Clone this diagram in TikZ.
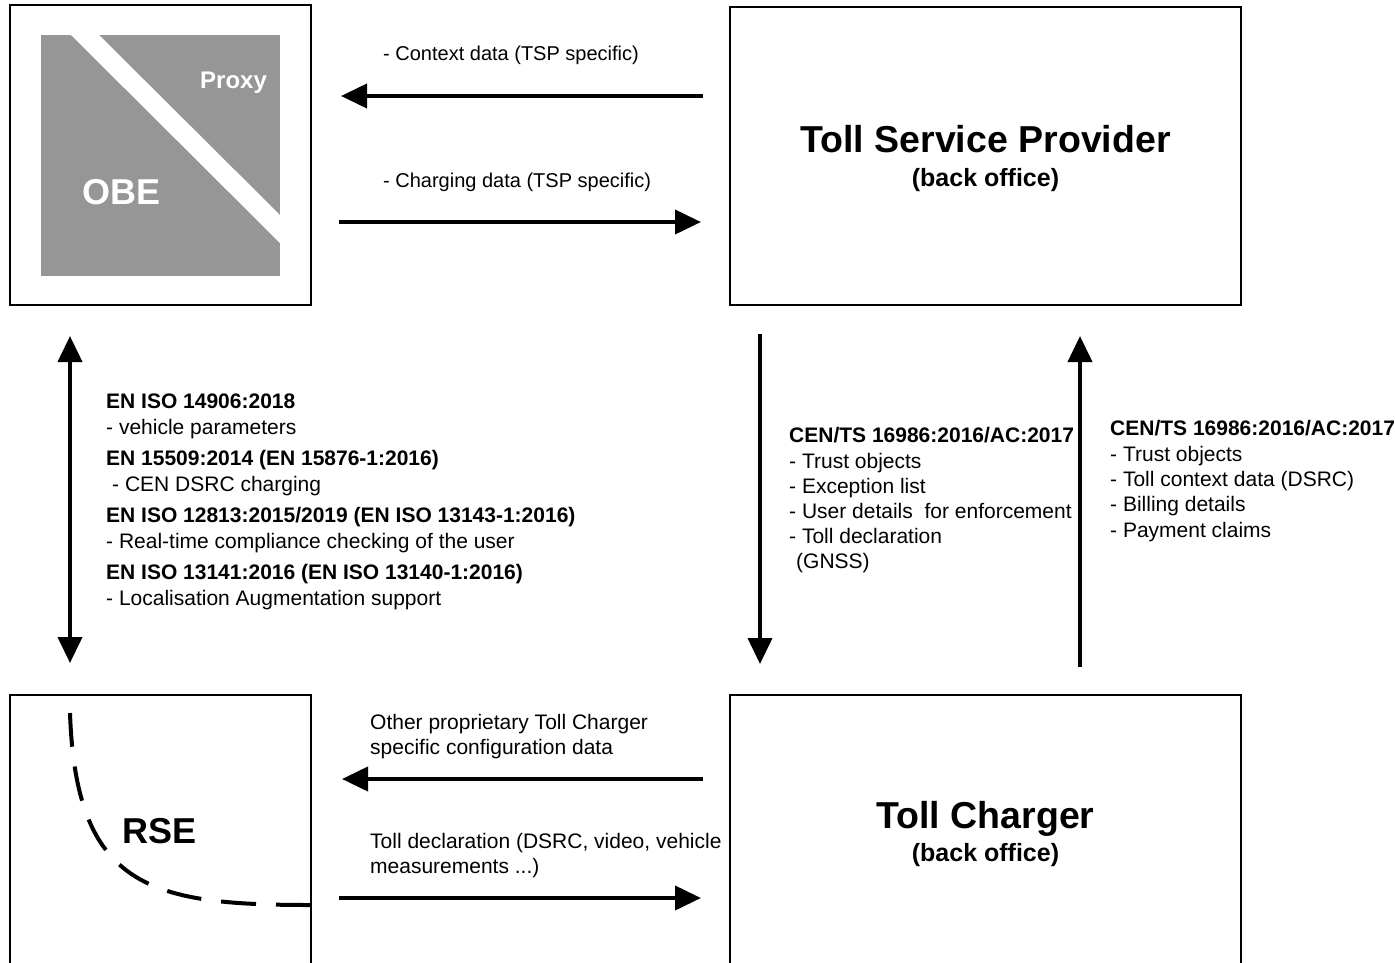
\documentclass[tikz,border=0pt]{standalone}
\usepackage{fontspec}
\setmainfont{Liberation Sans}
\usetikzlibrary{arrows.meta}
\definecolor{obegray}{RGB}{150,150,150}
\tikzset{
  box/.style={draw, line width=2pt, inner sep=0pt},
  lbl/.style={anchor=base west, inner sep=0pt, font=\fontsize{21}{25}\selectfont},
  tlbl/.style={anchor=base west, inner sep=0pt, font=\fontsize{20}{24}\selectfont},
  blbl/.style={anchor=base west, inner sep=0pt, font=\fontsize{21}{25}\selectfont\bfseries},
  title/.style={anchor=base, inner sep=0pt, font=\fontsize{37.5}{40}\selectfont\bfseries},
  subtitle/.style={anchor=base, inner sep=0pt, font=\fontsize{25}{28}\selectfont\bfseries},
  flow/.style={line width=4pt, -{Triangle[length=26pt,width=24pt]}},
  dflow/.style={line width=4pt, {Triangle[length=26pt,width=24pt]}-{Triangle[length=26pt,width=24pt]}},
}
\begin{document}
\begin{tikzpicture}[x=1pt,y=-1pt]
\useasboundingbox (0,0) rectangle (1395,962);
\clip (0,0) rectangle (1395,962);

% boxes
\node[box, minimum width=301pt, minimum height=300pt] (obe) at (160.5,155) {};
\node[box, minimum width=511pt, minimum height=298pt] (tsp) at (985.5,156) {};
\node[box, minimum width=301pt, minimum height=305pt] (rse) at (160.5,847.5) {};
\node[box, minimum width=511pt, minimum height=305pt] (tc) at (985.5,847.5) {};

% OBE / Proxy graphic
\fill[obegray] (41,35) rectangle (280,276);
\fill[white] (71,35) -- (99,35) -- (280,215) -- (280,243) -- cycle;
\node[anchor=base west, inner sep=0pt, text=white, font=\fontsize{24}{26}\selectfont\bfseries] (proxy) at (200,88) {Proxy};
\node[anchor=base west, inner sep=0pt, text=white, font=\fontsize{36}{38}\selectfont\bfseries] (obetxt) at (82,204) {OBE};

% titles
\node[title] (tsptitle) at (985.5,152) {Toll Service Provider};
\node[subtitle] (tspsub) at (985.5,186) {(back office)};
\node[title] (tctitle) at (985.5,828) {Toll Charger};
\node[subtitle] (tcsub) at (985.5,861) {(back office)};
\node[anchor=base west, inner sep=0pt, font=\fontsize{36}{38}\selectfont\bfseries] (rsetxt) at (122,843) {RSE};

% RSE dashed curve
\draw[line width=4pt, dash pattern=on 35pt off 20pt] (311,905) .. controls (150,905) and (76,888) .. (70,713);

% top arrows
\coordinate (c1s) at (703,96);  \coordinate (c1e) at (341,96);
\coordinate (c2s) at (339,222); \coordinate (c2e) at (701,222);
\draw[flow] (c1s) -- (c1e);
\draw[flow] (c2s) -- (c2e);
\node[tlbl] (ctx) at (383,60) {- Context data (TSP specific)};
\node[tlbl] (chg) at (383,187) {- Charging data (TSP specific)};

% bottom arrows
\coordinate (c3s) at (703,779); \coordinate (c3e) at (342,779);
\coordinate (c4s) at (339,898); \coordinate (c4e) at (701,898);
\draw[flow] (c3s) -- (c3e);
\draw[flow] (c4s) -- (c4e);
\node[lbl] (oth1) at (370,729) {Other proprietary Toll Charger};
\node[lbl] (oth2) at (370,754) {specific configuration data};
\node[lbl] (td1) at (370,848) {Toll declaration (DSRC, video, vehicle};
\node[lbl] (td2) at (370,873) {measurements ...)};

% left double arrow
\coordinate (c5s) at (70,336); \coordinate (c5e) at (70,663);
\draw[dflow] (c5s) -- (c5e);
\node[blbl] (l1) at (106,408) {EN ISO 14906:2018};
\node[lbl]  (l2) at (106,434) {- vehicle parameters};
\node[blbl] (l3) at (106,465) {EN 15509:2014 (EN 15876-1:2016)};
\node[lbl]  (l4) at (112,491) {- CEN DSRC charging};
\node[blbl] (l5) at (106,522) {EN ISO 12813:2015/2019 (EN ISO 13143-1:2016)};
\node[lbl]  (l6) at (106,548) {- Real-time compliance checking of the user};
\node[blbl] (l7) at (106,579) {EN ISO 13141:2016 (EN ISO 13140-1:2016)};
\node[lbl]  (l8) at (106,605) {- Localisation Augmentation support};

% middle down arrow
\coordinate (c6s) at (760,334); \coordinate (c6e) at (760,664);
\draw[flow] (c6s) -- (c6e);
\node[blbl] (m1) at (789,442) {CEN/TS 16986:2016/AC:2017};
\node[lbl]  (m2) at (789,468) {- Trust objects};
\node[lbl]  (m3) at (789,493) {- Exception list};
\node[lbl]  (m4) at (789,518) {- User details \ for enforcement};
\node[lbl]  (m5) at (789,543) {- Toll declaration};
\node[lbl]  (m6) at (796,568) {(GNSS)};

% right up arrow
\coordinate (c7s) at (1080,667); \coordinate (c7e) at (1080,336);
\draw[flow] (c7s) -- (c7e);
\node[blbl] (r1) at (1110,435) {CEN/TS 16986:2016/AC:2017};
\node[lbl]  (r2) at (1110,461) {- Trust objects};
\node[lbl]  (r3) at (1110,486) {- Toll context data (DSRC)};
\node[lbl]  (r4) at (1110,511) {- Billing details};
\node[lbl]  (r5) at (1110,537) {- Payment claims};
\end{tikzpicture}
\end{document}
